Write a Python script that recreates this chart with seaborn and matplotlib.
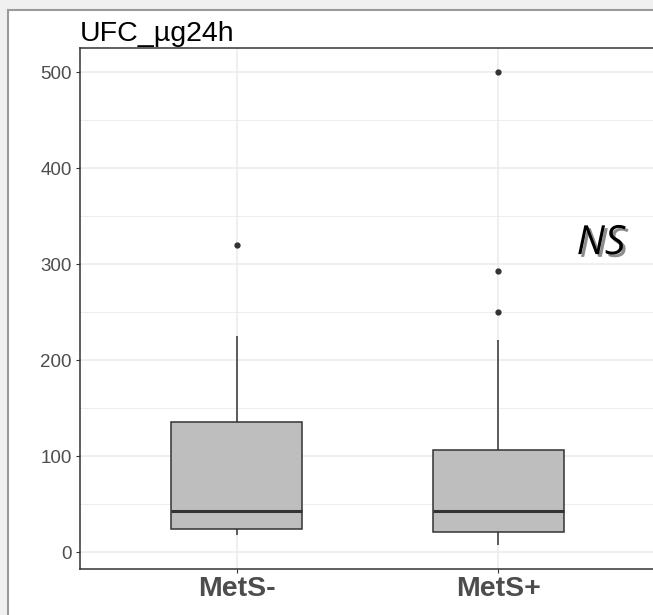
import numpy as np
import pandas as pd
import matplotlib
matplotlib.use("Agg")
from matplotlib import pyplot as plt
from matplotlib.patches import Rectangle
import matplotlib.patheffects as pe
import seaborn as sns

# values (chosen so quartiles/whiskers/outliers match)
mets_neg = [18, 20, 24, 35, 43, 90, 135, 225, 320]
mets_pos = [7, 10, 14, 18, 21, 26, 32, 38, 43, 60, 75, 90, 106, 221, 250, 293, 500]
groups = ['MetS-', 'MetS+']
y_ticks = [0, 100, 200, 300, 400, 500]

df = pd.DataFrame({
    'group': [groups[0]] * len(mets_neg) + [groups[1]] * len(mets_pos),
    'UFC': mets_neg + mets_pos,
})

sns.set_style('white')
plt.rcParams['font.family'] = ['Liberation Sans', 'DejaVu Sans']

fig = plt.figure(figsize=(6.53, 6.15), dpi=100)
fig.patch.set_facecolor('#f0f0f0')
# white frame with gray border, cut off at right/bottom
fig.patches.append(Rectangle((8 / 653, -0.2), 1.2, 1.2 - 10 / 615,
                             transform=fig.transFigure, facecolor='white',
                             edgecolor='#9a9a9a', linewidth=1.5, zorder=-5))

ax = fig.add_axes([80 / 653, 46 / 615, 575 / 653, 521 / 615])
ax.set_zorder(2)
ax.set_facecolor('white')

sns.boxplot(data=df, x='group', y='UFC', order=groups, ax=ax,
            color='#bebebe', saturation=1, width=0.5,
            linecolor='#333333', linewidth=1.1, showcaps=False,
            flierprops=dict(marker='o', markerfacecolor='#333333',
                            markeredgecolor='#333333', markersize=3.5),
            medianprops=dict(linewidth=2.2, color='#333333'))

ax.set_xlim(-0.6, 1.6)
ax.set_ylim(-17.7, 525)
ax.set_yticks(y_ticks)
ax.set_yticks([50, 150, 250, 350, 450], minor=True)
ax.grid(True, which='major', color='#ebebeb', linewidth=1.1)
ax.grid(True, which='minor', axis='y', color='#ebebeb', linewidth=0.6)
ax.set_axisbelow(True)
for s in ax.spines.values():
    s.set_color('#333333')
    s.set_linewidth(1.1)

ax.tick_params(axis='y', which='major', length=3, color='#333333',
               labelsize=13.5, labelcolor='#4d4d4d', pad=3, left=True)
ax.tick_params(axis='y', which='minor', length=0)
ax.tick_params(axis='x', length=3, color='#333333', labelsize=20.5,
               labelcolor='#4d4d4d', pad=2, bottom=True)
for lab in ax.get_xticklabels():
    lab.set_fontweight('bold')
ax.set_xlabel('')
ax.set_ylabel('')

ax.set_title('UFC_µg24h', loc='left', fontsize=20.5, color='black', pad=5)

ax.text(1.393, 321, 'NS', fontsize=29, style='italic', color='black',
        ha='center', va='center', family=['Open Sans', 'DejaVu Sans'],
        path_effects=[pe.SimplePatchShadow(offset=(2, -2), alpha=0.45),
                      pe.Normal()])

fig.savefig('out.png', dpi=100, facecolor=fig.get_facecolor())
